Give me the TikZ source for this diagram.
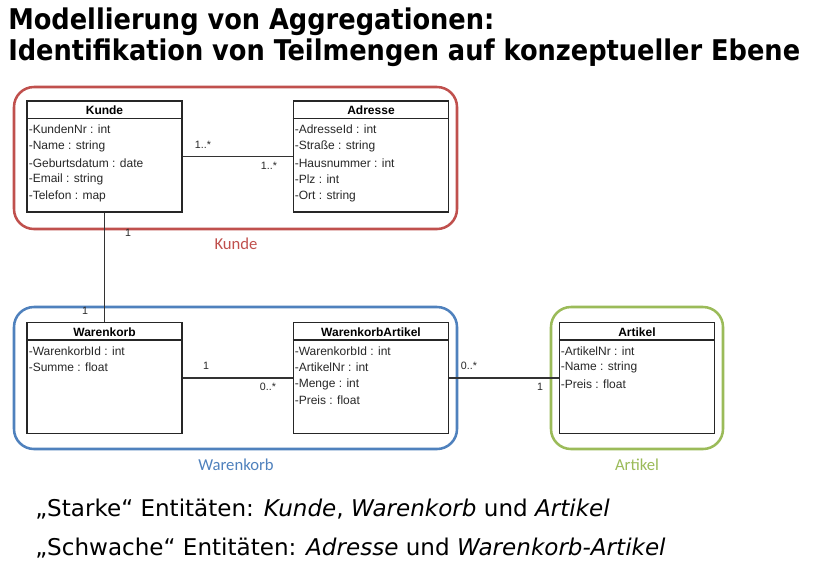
\documentclass[tikz,border=0pt]{standalone}
\usepackage{fontspec}
\setmainfont{Liberation Sans}
\newfontfamily\titlefont{DejaVu Sans Condensed}
\newfontfamily\bodyfont{DejaVu Sans}
\newfontfamily\grpfont{Carlito}
\definecolor{grpred}{RGB}{192,80,77}
\definecolor{grpblue}{RGB}{79,129,189}
\definecolor{grpgreen}{RGB}{155,187,89}
\definecolor{txtgray}{RGB}{40,40,40}
\tikzset{
  classbox/.style={draw=black!85, line width=1.1pt, minimum width=116.5pt, minimum height=83pt, inner sep=0pt},
  hdr/.style={font=\fontsize{9pt}{10pt}\selectfont\bfseries, text=black, inner sep=0pt},
  attr/.style={font=\fontsize{9pt}{10pt}\selectfont, text=txtgray, anchor=west, inner sep=0pt},
  mult/.style={font=\fontsize{8pt}{9pt}\selectfont, text=txtgray, inner sep=0pt},
  grp/.style={draw=#1, line width=1.9pt, rounded corners=15pt, inner sep=0pt},
  grplabel/.style={font=\grpfont\fontsize{12.5pt}{14pt}\selectfont, text=#1, inner sep=0pt},
  conn/.style={draw=black!80, line width=0.8pt},
  titletext/.style={font=\titlefont\bfseries\fontsize{21.4pt}{24pt}\selectfont, anchor=base west, inner sep=0pt},
  bodytext/.style={font=\bodyfont\fontsize{17.3pt}{20pt}\selectfont, anchor=base west, inner sep=0pt}
}
\begin{document}
\begin{tikzpicture}[x=0.75pt,y=-0.75pt]
\useasboundingbox[fill=white] (0,0) rectangle (826,582);

% title
\node[titletext] (t1) at (8,29) {Modellierung von Aggregationen:};
\node[titletext] (t2) at (8,60) {Identifikation von Teilmengen auf konzeptueller Ebene};

% groups
\node[grp=grpred, minimum width=332.25pt, minimum height=106.5pt] (gkunde) at (235.5,158) {};
\node[grp=grpblue, minimum width=332.25pt, minimum height=106.5pt] (gwk) at (235.5,378) {};
\node[grp=grpgreen, minimum width=129pt, minimum height=106.5pt] (gart) at (637,378) {};
\node[grplabel=grpred] (lkunde) at (236,244) {Kunde};
\node[grplabel=grpblue] (lwk) at (236,465) {Warenkorb};
\node[grplabel=grpgreen] (lart) at (637,465) {Artikel};

% classes
\node[classbox, fill=white] (kunde) at (104.5,156.5) {};
\node[classbox, fill=white] (adresse) at (371,156.5) {};
\node[classbox, fill=white] (warenkorb) at (104.5,378) {};
\node[classbox, fill=white] (wkartikel) at (371,378) {};
\node[classbox, fill=white] (artikel) at (637,378) {};

\foreach \n in {kunde,adresse,warenkorb,wkartikel,artikel}{
  \draw[black!85, line width=1.1pt] ([yshift=-13.5pt]\n.north west) -- ([yshift=-13.5pt]\n.north east);
}

\node[hdr] (hk) at (104.5,110.5) {Kunde};
\node[attr] (k1) at (28.5,129) {-KundenNr : int};
\node[attr] (k2) at (28.5,146) {-Name : string};
\node[attr] (k3) at (28.5,163) {-Geburtsdatum : date};
\node[attr] (k4) at (28.5,179.5) {-Email : string};
\node[attr] (k5) at (28.5,196) {-Telefon : map};

\node[hdr] (ha) at (371,110.5) {Adresse};
\node[attr] (a1) at (294.5,129) {-AdresseId : int};
\node[attr] (a2) at (294.5,146) {-Straße : string};
\node[attr] (a3) at (294.5,163) {-Hausnummer : int};
\node[attr] (a4) at (294.5,179.5) {-Plz : int};
\node[attr] (a5) at (294.5,196) {-Ort : string};

\node[hdr] (hw) at (104.5,332) {Warenkorb};
\node[attr] (w1) at (28.5,351) {-WarenkorbId : int};
\node[attr] (w2) at (28.5,367.5) {-Summe : float};

\node[hdr] (hwa) at (371,332) {WarenkorbArtikel};
\node[attr] (wa1) at (294.5,351) {-WarenkorbId : int};
\node[attr] (wa2) at (294.5,367.5) {-ArtikelNr : int};
\node[attr] (wa3) at (294.5,384) {-Menge : int};
\node[attr] (wa4) at (294.5,400.5) {-Preis : float};

\node[hdr] (har) at (637,332) {Artikel};
\node[attr] (ar1) at (560.5,351) {-ArtikelNr : int};
\node[attr] (ar2) at (560.5,367.5) {-Name : string};
\node[attr] (ar3) at (560.5,384) {-Preis : float};

% connectors
\draw[conn] (kunde.east) -- (adresse.west);
\draw[conn] (kunde.south) -- (warenkorb.north);
\draw[conn] (warenkorb.east) -- (wkartikel.west);
\draw[conn] (wkartikel.east) -- (artikel.west);

% multiplicities
\node[mult] (m1) at (203,145) {1..*};
\node[mult] (m2) at (269,166) {1..*};
\node[mult] (m3) at (128,233) {1};
\node[mult] (m4) at (85,311) {1};
\node[mult] (m5) at (206,366) {1};
\node[mult] (m6) at (268,387) {0..*};
\node[mult] (m7) at (469,366) {0..*};
\node[mult] (m8) at (540,387) {1};

% bottom text
\node[bodytext] (b1) at (35,516) {„Starke“ Entitäten: \textit{Kunde}, \textit{Warenkorb} und \textit{Artikel}};
\node[bodytext] (b2) at (35,555) {„Schwache“ Entitäten: \textit{Adresse} und \textit{Warenkorb-Artikel}};
\end{tikzpicture}
\end{document}
